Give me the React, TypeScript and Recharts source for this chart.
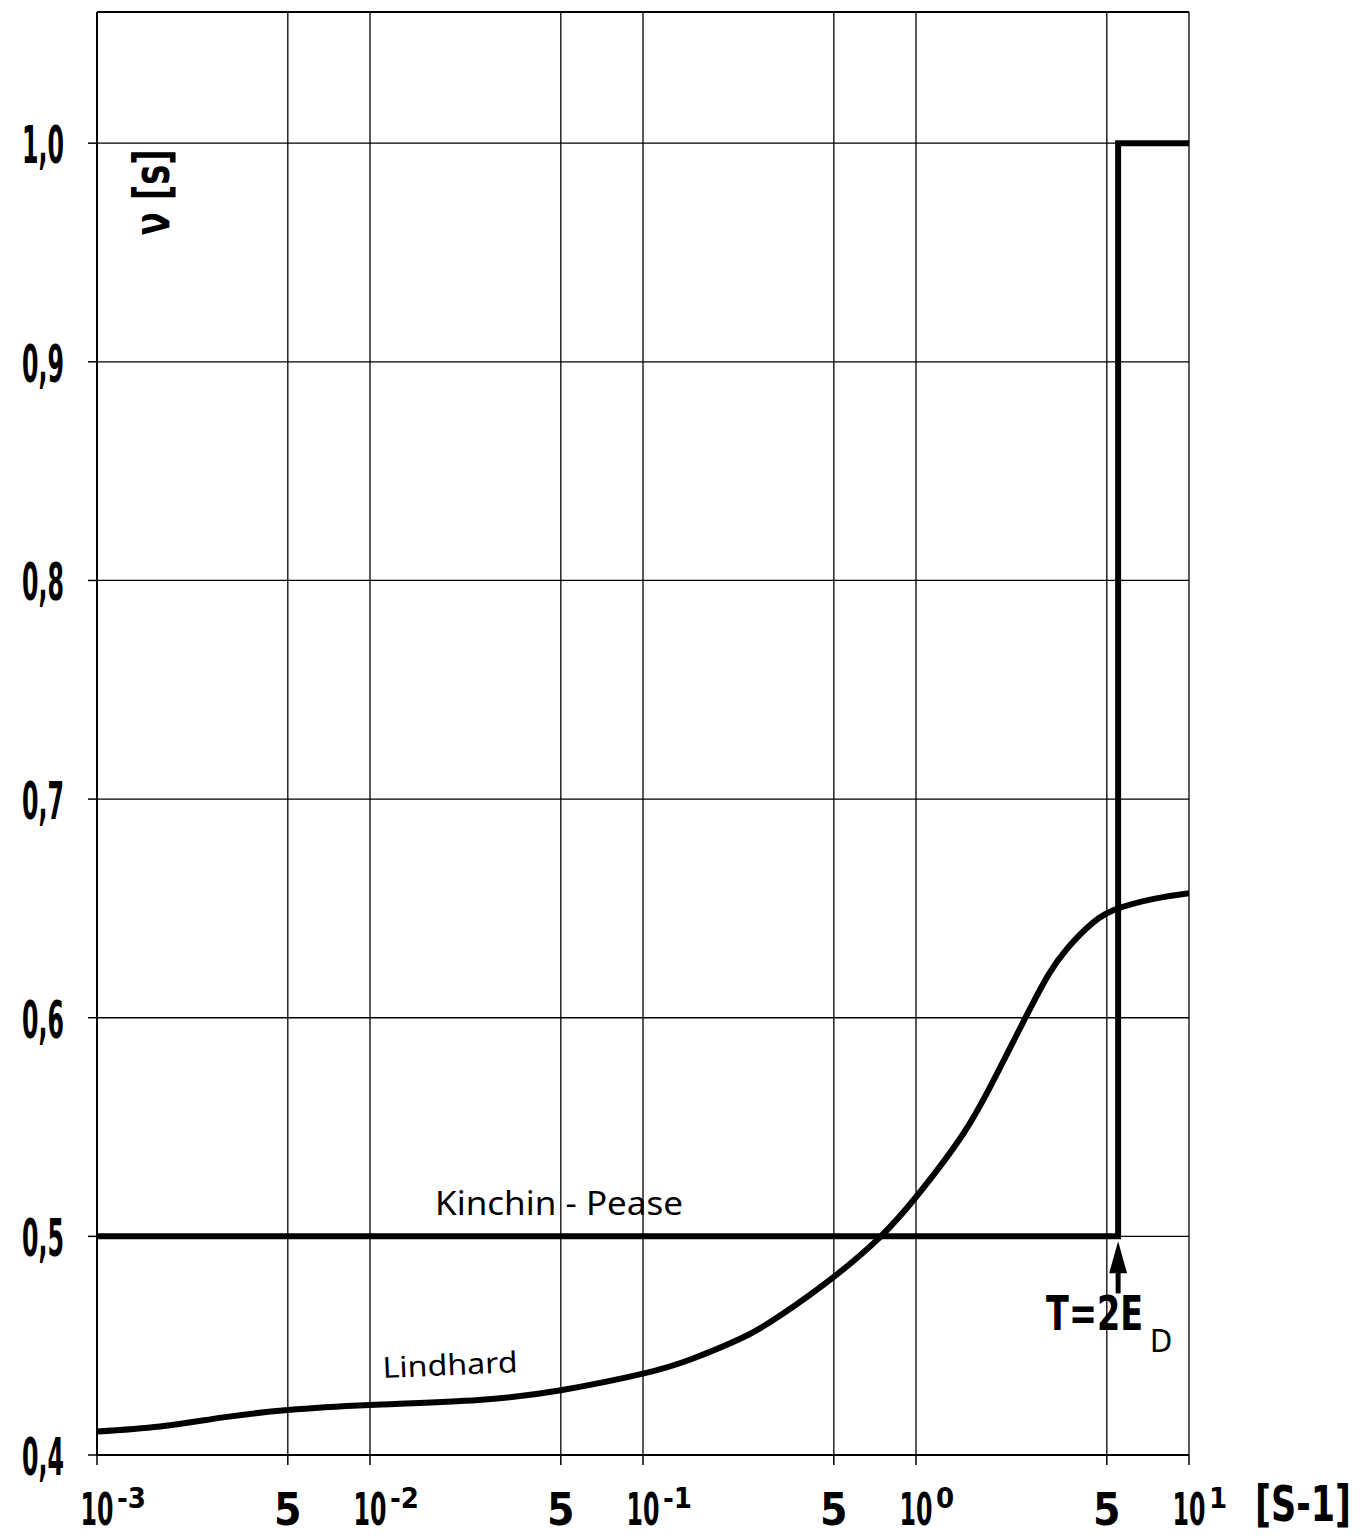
import React from "react";
import {
  LineChart,
  Line,
  XAxis,
  YAxis,
  CartesianGrid,
  ReferenceLine,
  ReferenceDot,
} from "recharts";

const COND = "'Liberation Sans Narrow', 'DejaVu Sans Condensed', 'Roboto Condensed', sans-serif";
const PLAIN = "'Noto Sans', 'DejaVu Sans', sans-serif";

// x axis: log scale, decades with a "5" tick in between
const xTicks = [0.001, 0.005, 0.01, 0.05, 0.1, 0.5, 1, 5, 10];
const xTickBase = ["10", "5", "10", "5", "10", "5", "10", "5", "10"];
const xTickExp = ["-3", "", "-2", "", "-1", "", "0", "", "1"];

const yTicks = [0.4, 0.5, 0.6, 0.7, 0.8, 0.9, 1.0];
const yTickLabels = ["0,4", "0,5", "0,6", "0,7", "0,8", "0,9", "1,0"];

// Lindhard curve
const lindhardX = [
  0.001, 0.0017, 0.0029, 0.005, 0.01, 0.025, 0.05, 0.1, 0.15, 0.23, 0.32,
  0.5, 0.74, 1.0, 1.5, 2.0, 2.55, 3.05, 3.6, 4.45, 5.5, 7.5, 10,
];
const lindhardY = [
  0.4107, 0.413, 0.4172, 0.4206, 0.4229, 0.4252, 0.4296, 0.4372, 0.4438, 0.4535,
  0.464, 0.4815, 0.4998, 0.518, 0.5475, 0.5755, 0.6014, 0.6195, 0.632, 0.6435,
  0.65, 0.6545, 0.657,
];

// Kinchin-Pease step
const kpX = [0.001, 5.5, 5.5, 10];
const kpY = [0.5, 0.5, 1.0, 1.0];

const lindhard = lindhardX.map((x, i) => ({ x, y: lindhardY[i] }));
const kinchin = kpX.map((x, i) => ({ x, y: kpY[i] }));

const XTick = (props: any) => {
  const { x, y, payload, index } = props;
  const i = index ?? xTicks.indexOf(payload.value);
  const base = xTickBase[i];
  const exp = xTickExp[i];
  return (
    <g>
      <text
        x={x}
        y={y + 58}
        textAnchor="middle"
        fontFamily={COND}
        fontWeight="bold"
        fontSize={44}
        fill="#000"
        {...(base === "10" ? { textLength: 33, lengthAdjust: "spacingAndGlyphs" } : {})}
      >
        {base}
      </text>
      {exp && (
        <text
          x={x + 20}
          y={y + 41}
          textAnchor="start"
          fontFamily={COND}
          fontWeight="bold"
          fontSize={29}
          fill="#000"
        >
          {exp}
        </text>
      )}
    </g>
  );
};

const YTick = (props: any) => {
  const { x, y, payload } = props;
  const i = yTicks.findIndex((t) => Math.abs(t - payload.value) < 1e-6);
  return (
    <text
      x={x - 22}
      y={y + 20}
      textAnchor="end"
      fontFamily={COND}
      fontWeight="bold"
      fontSize={52}
      fill="#000"
      textLength={42}
      lengthAdjust="spacingAndGlyphs"
    >
      {yTickLabels[i]}
    </text>
  );
};

const App = () => {
  return (
    <div
      style={{
        position: "absolute",
        left: 0,
        top: 0,
        width: 1372,
        height: 1536,
        background: "#fff",
      }}
    >
      <LineChart
        width={1372}
        height={1536}
        margin={{ top: 12, right: 183, bottom: 0, left: 0 }}
      >
        <CartesianGrid stroke="#000" strokeWidth={1.3} />
        <XAxis
          dataKey="x"
          type="number"
          scale="log"
          domain={[0.001, 10]}
          ticks={xTicks}
          allowDataOverflow
          height={81}
          axisLine={{ stroke: "#000", strokeWidth: 2 }}
          tickLine={{ stroke: "#000", strokeWidth: 1.5 }}
          tickSize={10}
          tick={<XTick />}
          interval={0}
        />
        <YAxis
          type="number"
          domain={[0.4, 1.06]}
          ticks={yTicks}
          allowDataOverflow
          width={97}
          axisLine={{ stroke: "#000", strokeWidth: 2 }}
          tickLine={{ stroke: "#000", strokeWidth: 1.5 }}
          tickSize={9}
          tick={<YTick />}
          interval={0}
        />
        <ReferenceLine y={1.06} stroke="#000" strokeWidth={2} />
        <Line
          data={kinchin}
          dataKey="y"
          type="linear"
          stroke="#000"
          strokeWidth={6}
          strokeLinejoin="miter"
          dot={false}
          isAnimationActive={false}
        />
        <Line
          data={lindhard}
          dataKey="y"
          type="natural"
          stroke="#000"
          strokeWidth={6}
          dot={false}
          isAnimationActive={false}
        />
        {/* axis title, rotated inside the plot */}
        <ReferenceDot
          x={0.00159}
          y={0.9776}
          r={0}
          ifOverflow="visible"
          shape={(p: any) => (
            <text
              x={p.cx}
              y={p.cy}
              transform={`rotate(-90 ${p.cx} ${p.cy})`}
              textAnchor="middle"
              dominantBaseline="central"
              fontFamily={COND}
              fontWeight="bold"
              fontSize={50}
              fill="#000"
              textLength={86}
              lengthAdjust="spacingAndGlyphs"
            >
              ν [s]
            </text>
          )}
        />
        <ReferenceDot
          x={0.0173}
          y={0.5}
          r={0}
          ifOverflow="visible"
          shape={(p: any) => (
            <text
              x={p.cx}
              y={p.cy - 21}
              textAnchor="start"
              fontFamily={PLAIN}
              fontSize={33}
              fill="#000"
              textLength={248}
              lengthAdjust="spacingAndGlyphs"
            >
              Kinchin - Pease
            </text>
          )}
        />
        <ReferenceDot
          x={0.01116}
          y={0.4352}
          r={0}
          ifOverflow="visible"
          shape={(p: any) => (
            <text
              x={p.cx}
              y={p.cy}
              transform={`rotate(-2.5 ${p.cx} ${p.cy})`}
              textAnchor="start"
              fontFamily={PLAIN}
              fontSize={29}
              fill="#000"
              textLength={135}
              lengthAdjust="spacingAndGlyphs"
            >
              Lindhard
            </text>
          )}
        />
        <ReferenceDot
          x={5.5}
          y={0.5}
          r={0}
          ifOverflow="visible"
          shape={(p: any) => (
            <g>
              <path
                d={`M${p.cx} ${p.cy + 5} L${p.cx - 9} ${p.cy + 37} L${p.cx + 9} ${p.cy + 37} Z`}
                fill="#000"
              />
              <rect x={p.cx - 2.5} y={p.cy + 30} width={5} height={27} fill="#000" />
              <text
                x={p.cx - 72}
                y={p.cy + 94}
                textAnchor="start"
                fontFamily={COND}
                fontWeight="bold"
                fontSize={48}
                fill="#000"
                textLength={97}
                lengthAdjust="spacingAndGlyphs"
              >
                T=2E
              </text>
              <text
                x={p.cx + 32}
                y={p.cy + 116}
                textAnchor="start"
                fontFamily={COND}
                fontSize={32}
                fill="#000"
              >
                D
              </text>
            </g>
          )}
        />
        <ReferenceDot
          x={10}
          y={0.4}
          r={0}
          ifOverflow="visible"
          shape={(p: any) => (
            <text
              x={p.cx + 66}
              y={p.cy + 66}
              textAnchor="start"
              fontFamily={COND}
              fontWeight="bold"
              fontSize={50}
              fill="#000"
              textLength={96}
              lengthAdjust="spacingAndGlyphs"
            >
              [S-1]
            </text>
          )}
        />
      </LineChart>
    </div>
  );
};

export default App;
